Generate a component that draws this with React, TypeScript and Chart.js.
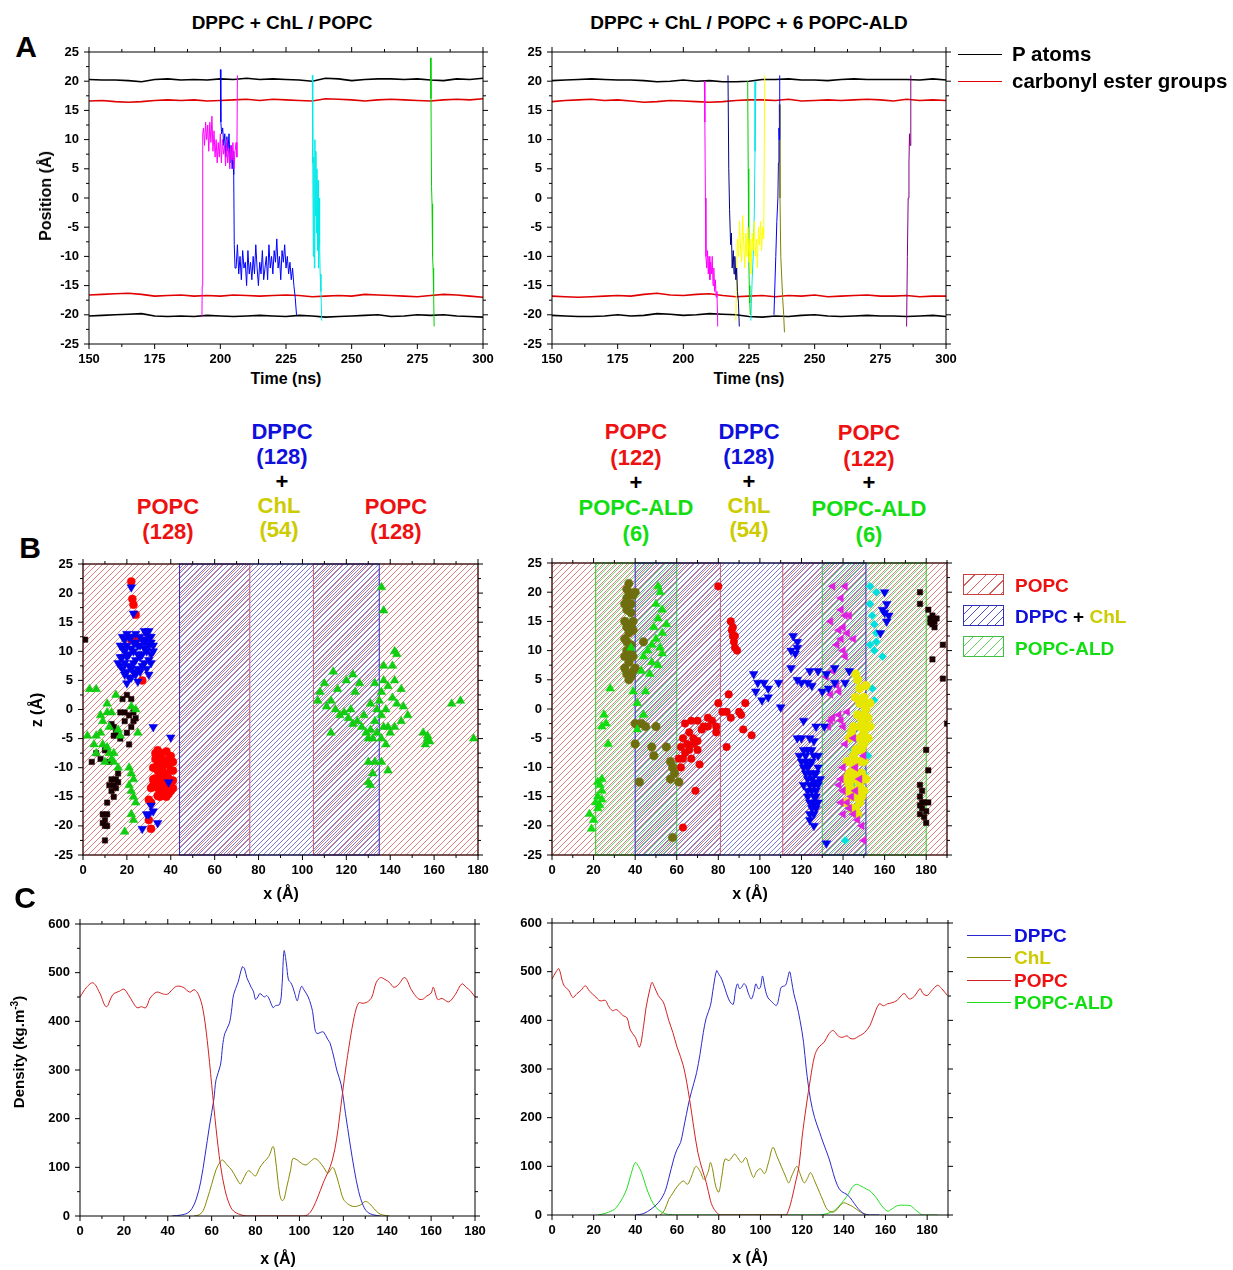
import React, { useEffect, useRef } from "react";
import { Chart, registerables } from "chart.js";
Chart.register(...registerables);

const FONT = "Arial, 'Liberation Sans', Helvetica, sans-serif";
type P = [number, number];
type Span = [number, number];

// ================= Panel A : positions vs time =================
const timeNs = [150,155,160,165,170,175,180,185,190,195,200,205,210,215,220,225,230,235,240,245,250,255,260,265,270,275,280,285,290,295,300];
const pTopL = [20.3,20.2,20.2,20.1,19.9,20.3,20.4,20.2,20.3,20.2,20.4,20.3,20.5,20.3,20.4,20.3,20.2,20.0,20.5,20.4,20.1,20.3,20.4,20.4,20.3,20.4,20.2,20.1,20.4,20.3,20.5];
const cTopL = [16.6,16.7,16.5,16.4,16.5,16.7,16.8,16.7,16.8,16.6,16.7,16.8,16.9,16.7,16.9,16.8,16.7,16.6,17.0,16.9,16.8,16.6,16.8,16.9,16.8,16.7,16.6,16.8,16.9,16.8,17.0];
const cBotL = [-16.6,-16.5,-16.4,-16.3,-16.5,-16.8,-16.7,-16.6,-16.8,-16.7,-16.8,-16.6,-16.7,-16.8,-16.7,-16.6,-16.7,-16.9,-16.8,-16.7,-16.8,-16.5,-16.6,-16.7,-16.8,-16.9,-16.7,-16.5,-16.6,-16.8,-17.0];
const pBotL = [-20.2,-20.1,-20.0,-19.9,-19.8,-20.2,-20.3,-20.2,-20.3,-20.1,-20.2,-20.3,-20.2,-20.1,-20.2,-20.3,-20.1,-20.2,-20.4,-20.3,-20.2,-20.1,-20.0,-20.3,-20.2,-20.0,-20.1,-20.0,-20.2,-20.3,-20.4];
const pTopR = [20.1,20.2,20.3,20.4,20.3,20.2,20.2,20.1,19.9,20.0,20.2,20.0,20.1,19.9,19.9,20.0,20.3,20.3,20.4,20.2,20.2,20.1,20.3,20.4,20.3,20.3,20.3,20.3,20.2,20.4,20.2];
const cTopR = [16.5,16.7,16.8,16.9,16.7,16.8,16.6,16.4,16.5,16.7,16.6,16.5,16.4,16.5,16.7,16.8,16.8,16.7,16.9,16.6,16.7,16.8,16.7,16.8,16.9,16.8,16.6,16.9,16.7,16.8,16.7];
const cBotR = [-16.8,-16.9,-17.0,-16.9,-16.8,-16.7,-16.8,-16.5,-16.3,-16.6,-16.7,-16.5,-16.4,-16.7,-16.9,-16.8,-16.7,-16.9,-16.7,-16.8,-16.6,-16.9,-16.8,-16.7,-16.6,-16.8,-16.8,-16.7,-16.9,-16.8,-16.8];
const pBotR = [-20.1,-20.2,-20.3,-20.3,-20.2,-20.0,-20.2,-20.1,-19.8,-19.9,-20.1,-20.0,-19.8,-19.9,-20.0,-20.3,-20.4,-20.2,-20.3,-20.1,-20.0,-20.2,-20.3,-20.2,-20.1,-20.2,-20.2,-20.3,-20.2,-20.1,-20.3];

const magentaAL: P[] = [[193,-20.3],[193.1,-15],[193.3,11],[193.6,12],[194,9],[194.4,13],[194.8,10],[195.2,12.5],[195.6,8],[196,13],[196.4,9.5],[196.8,14],[197.2,8],[197.6,11.5],[198,7],[198.4,10],[198.8,6],[199.2,9.5],[199.6,7],[200,11],[200.4,6],[200.8,10],[201.2,7.5],[201.6,9],[202,5.5],[202.4,10],[202.8,6],[203.2,8.5],[203.6,5],[204,9],[204.4,6.5],[204.8,9.5],[205.2,5],[205.6,8],[206,9.5],[206.3,7],[206.5,21]];
const blueAL: P[] = [[200,22],[200.2,13],[200.5,11],[200.9,12],[201.3,9],[201.7,11],[202.1,7],[202.5,10.5],[202.9,8],[203.3,11],[203.7,6],[204.1,9],[204.5,5],[204.9,8],[205.1,4],[205.3,-8],[205.6,-12],[206,-12],[206.5,-8],[207,-13],[207.5,-10],[208,-14],[208.5,-9],[209,-12],[209.5,-11],[210,-15],[210.5,-9],[211,-13],[211.5,-11],[212,-14],[212.5,-10],[213,-13],[213.5,-8],[214,-12],[214.5,-15],[215,-11],[215.5,-13],[216,-9],[216.5,-14],[217,-12],[217.5,-10],[218,-14],[218.5,-8],[219,-12],[219.5,-10],[220,-13],[220.5,-9],[221,-11],[221.5,-7],[222,-12],[222.5,-10],[223,-14],[223.5,-9],[224,-11],[224.5,-8],[225,-12],[225.5,-10],[226,-13],[226.5,-11],[227,-14],[227.5,-12],[228,-15],[228.5,-17],[229,-20]];
const cyanAL: P[] = [[235,21],[235.2,6],[235.4,-10],[235.6,7],[235.8,-12],[236,10],[236.2,-3],[236.4,8],[236.6,-6],[236.8,5],[237,-9],[237.2,3],[237.4,-12],[237.6,0],[237.8,-8],[238,-13],[238.3,-16],[238.6,-21]];
const greenAL: P[] = [[280,24],[280.2,17],[280.4,2],[280.6,-1],[280.8,-10],[281,-12],[281.2,-16],[281.4,-22]];

const magentaAR: P[] = [[208,20],[208.2,13],[208.4,0],[208.6,-10],[208.9,-12],[209.2,-9],[209.5,-13],[209.8,-10],[210.1,-14],[210.4,-11],[210.7,-13],[211,-10],[211.3,-15],[211.6,-12],[211.9,-16],[212.2,-14],[212.5,-17],[212.8,-16],[213.1,-22]];
const navyAR: P[] = [[217,21],[217.3,5],[217.6,-2],[218,-8],[218.3,-6],[218.6,-12],[219,-9],[219.3,-13],[219.6,-10],[220,-14],[220.3,-12],[220.6,-16],[221,-18],[221.3,-22]];
const yellowAR: P[] = [[220,-21],[220.3,-12],[220.6,-7],[221,-10],[221.4,-4],[221.8,-9],[222.2,-11],[222.6,-3],[223,-8],[223.4,-12],[223.8,-6],[224.2,-10],[224.6,-5],[225,-11],[225.4,-7],[225.8,-13],[226.2,-6],[226.6,-9],[227,-4],[227.4,-10],[227.8,-7],[228.2,-12],[228.6,-5],[229,-8],[229.4,-4],[229.8,-9],[230.2,-5],[230.6,-7],[231,21]];
const greenAR: P[] = [[224.5,20],[224.7,5],[224.9,-10],[225.1,-15],[225.3,-18],[225.5,-20]];
const cyanAR: P[] = [[227.6,20],[227.3,8],[227,-3],[226.6,-10],[226.2,-14],[225.9,-18],[225.7,-21]];
const blueAR: P[] = [[234.5,-20],[235.2,-10],[235.6,-4],[236,0],[236.2,6],[236.4,12],[236.5,10],[236.7,21]];
const oliveAR: P[] = [[236.5,16],[236.8,0],[237.1,-10],[237.4,-13],[237.8,-17],[238.2,-20],[238.5,-23]];
const purpleAR: P[] = [[285,-22],[285.3,-10],[285.6,0],[285.9,6],[286.1,11],[286.3,9],[286.6,21]];

// ================= Panel B : lateral positions =================
const popcSpansL: Span[] = [[0,76],[105,180]];
const dppcSpansL: Span[] = [[44,135]];
const popcSpansR: Span[] = [[0,81],[111,190]];
const aldSpansR: Span[] = [[21,60],[130,180]];
const dppcSpansR: Span[] = [[40,151]];

const blackSqL: P[] = [[1,12],[9,-18],[10,-19],[11,-18],[10,-20],[9,-19.5],[11,-20],[10,-22.5],[11,-16],[13,-12],[14,-13],[15,-12],[13,-14],[14,-15],[15,-13.5],[16,-12.5],[12,-13],[16,-11],[4,-9],[6,-7.5],[8,-8.5],[10,-7],[12,-9],[20,2.5],[18,1.8],[22,1.8],[17,-0.5],[19,-0.5],[21,-1],[23,-0.5],[24,-1.5],[19,-2],[22,-3],[20,-4],[14,-3],[15,-4],[13,-2.5],[23,-2],[21,-6],[17,-5],[14,-4.5]];
const redCirL: P[] = [[22,22],[22.5,19],[23,18],[24,16.3],[22,12],[24,12],[27,5],[31,-13.5],[32,-13],[30,-15.5],[31,-16],[30,-19],[31,-20.5],[34,-7],[36,-7.5],[38,-7.2],[40,-8],[33,-8.5],[35,-9],[37,-8.8],[39,-9.5],[41,-9],[32,-10],[34,-10.5],[36,-10.2],[38,-11],[40,-10.5],[33,-11.8],[35,-12],[37,-12.5],[39,-11.8],[41,-12.2],[34,-13.5],[36,-13.8],[38,-13.2],[40,-14],[35,-15],[37,-14.8],[36,-9.5],[38,-12],[34,-12.8],[33,-7.5],[35,-8],[37,-9.5],[39,-8.5],[41,-10.5],[33,-10],[35,-11],[37,-11],[39,-13],[41,-13.5],[33,-13],[35,-13.5],[37,-13.8],[39,-14.5],[36,-14.5],[34,-14.8],[38,-15],[40,-12.5],[32,-12],[34,-9.5]];
const blueInvL: P[] = [[22,21],[23,16.5],[32,-3],[40,-4.8],[39,-12.5],[31,-16.5],[32,-17.5],[30,-18],[29,-18],[27,-20.5],[34,-19.5],[20,4.5],[25,4.8],[17,9],[18,10.5],[19,8],[20,11],[21,9.5],[22,7],[23,10],[24,8.5],[25,11],[26,9],[18,7],[20,6.5],[22,5.5],[24,6],[19,12],[21,12.5],[23,11.5],[26,6.5],[28,13.5],[29,12],[30,11],[31,12.5],[29,10],[30,8.5],[31,9.5],[32,11],[28,8],[30,6],[29,7],[27,9.5],[16,8],[17,11],[18,12.5],[19,10],[20,9],[21,7.5],[22,10.5],[23,8],[24,11.5],[25,9.5],[26,11],[27,7.5],[28,10.5],[29,13],[30,12.5],[31,11.5],[32,10],[19,6],[21,5.5],[23,6.5],[25,7],[27,12],[28,11.5],[26,12.5],[24,13],[22,12.5],[20,13],[30,13.5],[31,8],[17,7.5],[18,9]];
const greenTriL: P[] = [[3,3.5],[6,3.5],[15,2.5],[11,1],[22,0.5],[24,0],[8,-1],[11,-0.5],[13,-0.5],[9,-2],[12,-3],[16,-3.5],[2,-4.5],[6,-4.5],[8,-4],[17,-4.5],[25,-4],[5,-6],[9,-6],[11,-6.5],[6,-7.5],[12,-7.5],[14,-7.5],[13,-8.5],[10,-9],[14,-9],[16,-10],[21,-10],[22,-11],[23,-12],[21,-13],[22,-14],[23,-15],[24,-16],[22,-18],[23,-19],[19,-21],[108,3],[110,4.5],[114,6.5],[116,3.5],[120,5],[123,6],[126,4.5],[124,3],[107,1.5],[111,0.5],[113,1.5],[115,0],[117,-1],[119,-0.5],[121,-1.5],[123,-2.5],[125,-2],[127,-3],[129,-4],[131,-3.5],[133,-2],[134,0],[135,1.5],[136,3],[131,1],[133,4.5],[137,5],[139,4],[137,7.5],[141,7.5],[142,10],[143,9.5],[142,5],[145,3.5],[141,2],[143,1],[146,0.5],[138,0],[136,-1],[137,-3],[139,-3],[140,-4],[142,-3],[145,-2],[148,-1],[134,-4],[132,-5],[136,-5],[138,-6],[113,-4],[130,-9],[133,-9],[136,-9],[139,-10.5],[132,-11],[130,-12.5],[131,-13],[136,21],[137,17],[155,-4],[157,-5],[158,-5.5],[157,-4.5],[156,-6],[168,1],[172,1.5],[178,-5],[130,-5],[128,-1],[122,0]];

const oliveCirR: P[] = [[35,18],[36,19],[37,20],[38,18],[39,19.5],[36,17],[38,16.5],[37,21.5],[39,15],[40,20],[35,12],[36,10],[37,8],[38,11],[39,9],[36,6],[38,5.5],[35,7],[37,13],[39,13.5],[40,7],[38,9.5],[36,11.5],[40,-2.5],[43,-2.5],[45,-3],[50,-3],[48,-6.5],[49,-8],[40,-6],[55,-6.5],[57,-9],[58,-10],[59,-11],[57,-12],[61,-12.5],[42,-12.5],[58,-22],[44,11.5],[36,14],[38,14.5],[35,9],[37,5],[39,6.5],[36,20.5],[35,15]];
const greenTriR: P[] = [[51,21],[52,20],[50,18],[53,17],[51,15.5],[55,14.5],[49,14],[53,13],[50,12],[48,11],[52,10.5],[46,10],[44,9],[48,8],[51,7.5],[53,9.5],[47,6],[43,6.5],[38,10.5],[39,3],[45,3],[28,3.5],[41,1],[44,-1],[25,-1],[26,-2.5],[24,-3],[27,-6],[22,-12.5],[23,-13],[24,-14],[22,-15],[24,-15.5],[23,-16.5],[21,-16],[22,-17],[18,-18],[20,-19],[19,-20.5],[24,-12],[41,-3.5]];
const redCirR: P[] = [[80,21],[86,15],[86.5,13.5],[87,12.5],[87.5,11.5],[88,10.5],[89,10],[87,14],[88,12.5],[85,2.5],[80,1],[82,-0.5],[84,-0.5],[86,-1.5],[75,-1.5],[77,-2],[79,-3],[73,-3],[70,-2],[67,-2],[64,-2.5],[66,-4],[68,-5],[70,-5.5],[63,-5],[65,-6],[62,-6.5],[64,-7.5],[66,-7],[68,-6],[70,-7],[61,-8.5],[63,-8.5],[67,-8.5],[71,-9.5],[62,-10],[84,-6.5],[90,-0.5],[91,-1],[93,1],[96,-4.5],[92,-3.5],[79,-4],[75,-3],[69,-14],[63,-20.3],[72,-3.5]];
const blueInvR: P[] = [[97,6],[99,4.5],[98,3],[102,4.5],[104,3.5],[104,2],[101,1.5],[109,4.5],[110,0.3],[116,12.5],[118,11.5],[115,10],[117,9.5],[118,10.5],[115,7],[118,5],[120,4.5],[123,4.5],[125,4],[124,6.5],[128,6.5],[132,6],[133,3.5],[130,3],[136,4.5],[143,6.5],[141,4.5],[136,7],[121,-2],[127,-3],[131,-3],[120,-5],[124,-5],[126,-5.5],[118,-5],[119,-8],[120,-9],[121,-10],[122,-11],[123,-12],[124,-13],[125,-14],[122,-8],[124,-9.5],[126,-11],[127,-12.5],[125,-16],[126,-18],[127,-17],[124,-19],[126,-20],[123,-15],[121,-13],[125,-7],[128,-8],[127,-15],[128,-10],[132,-23],[160,20],[161,18],[159,17],[162,16],[161,15],[158,13],[160,16.5],[121,-7],[122,-9],[123,-10],[124,-11],[125,-12],[126,-13],[127,-14],[123,-14],[124,-16],[125,-17],[126,-15],[128,-13],[127,-11],[128,-16],[125,-9],[123,-7],[126,-8],[129,-12],[124,-18],[126,-16.5]];
const magentaR: P[] = [[135,21],[141,21],[139,19],[141,16],[143,16],[140,14],[138,13.5],[142,13],[137,11],[139,12],[140,10],[141,9],[145,12],[134,15],[139,17],[135,6.5],[132,5.5],[137,4],[138,3],[134,2.5],[142,-0.5],[138,-1],[134,-2],[133,-3],[139,-2],[140,-3],[141,-6],[140,-10],[139,-12],[138,-13],[140,-14],[142,-16],[143,-17],[144,-15],[146,-14],[145,-18],[147,-19],[149,-20],[150,-22.5],[140,-18],[139,-16],[148,-12],[146,-10],[150,-8],[145,-5],[135,-1.5]];
const cyanR: P[] = [[153,21],[156,20],[153,18],[154,16],[155,14.5],[156,13],[153,11],[155,10],[156,11.5],[159,9],[154,3.5],[155,1.5],[148,-1],[147,-3],[146,-5],[145,-7],[147,-9],[146,-11],[144,-13],[145,-15],[143,-17],[149,-14],[150,-11],[148,-7],[141,-22.5],[150,-1],[151,-5],[152,-8]];
const yellowR: P[] = [[146,6],[147,5],[148,3.5],[146,2],[148,1],[150,2],[151,0],[152,-1.5],[149,-2],[148,-3],[150,-4],[152,-5],[149,-6],[147,-7],[146,-9],[145,-10],[147,-11],[144,-12],[143,-13],[145,-14],[146,-15],[148,-13],[149,-11],[150,-9],[144,-11],[142,-9],[141,-12],[151,-3],[153,-3],[146,-17],[148,-16],[147,-18],[144,-4],[149,-7],[151,4],[153,1],[143,-5],[145,-3],[147,-1],[149,1],[150,-1],[152,-3],[150,-6],[148,-9],[146,-12],[144,-15],[143,-11],[145,-8],[147,-14],[149,-15],[151,-12],[150,-14],[142,-14],[141,-16],[144,-17],[146,-7],[148,-5]];
const blackSqR: P[] = [[177,20],[177,18],[181,17],[182,15.5],[183,16],[184,15],[183,14.5],[184,14],[182,14.8],[185,15.5],[188,11],[183,8.5],[188,5.2],[190,-2.5],[180,-7],[181,-10.5],[177,-13],[178,-14],[177,-15],[179,-16],[178,-17],[180,-17.5],[177,-18],[179,-18.5],[180,-19.5],[178,-16],[181,-16],[177,-16.5]];

// ================= Panel C : density profiles =================
const popcCL: P[] = [[0,450],[3,470],[6,479],[9,458],[12,430],[15,455],[18,462],[20,466],[22,455],[24,440],[26,428],[28,430],[30,428],[32,448],[35,460],[38,456],[40,456],[42,465],[44,472],[47,470],[50,460],[52,465],[54,455],[56,425],[58,360],[60,270],[62,180],[64,105],[66,55],[68,25],[70,10],[73,3],[76,0],[102,0],[105,8],[108,35],[111,70],[113,90],[115,115],[117,160],[119,230],[121,300],[123,360],[125,410],[127,438],[129,437],[131,440],[133,450],[135,480],[137,490],[139,486],[141,480],[143,470],[145,475],[148,490],[151,465],[154,447],[156,445],[158,452],[160,458],[161,470],[163,445],[165,447],[168,440],[171,455],[174,477],[176,470],[178,462],[180,450]];
const dppcCL: P[] = [[42,0],[46,2],[49,6],[51,15],[53,35],[55,70],[57,125],[59,185],[61,240],[62,280],[64,310],[65,350],[66,375],[68,395],[69,420],[70,455],[72,480],[74,512],[75,508],[76,490],[77,480],[78,470],[79,462],[80,445],[81,450],[82,457],[84,450],[85,453],[86,448],[88,428],[89,432],[91,435],[92,470],[93,545],[94,520],[95,485],[96,480],[97,470],[98,455],[99,442],[100,460],[101,472],[102,465],[104,450],[106,420],[107,385],[108,375],[110,378],[111,378],[113,362],[114,355],[116,320],[117,300],[119,270],[121,210],[123,150],[125,95],[127,50],[129,22],[131,8],[134,2],[137,0]];
const chlCL: P[] = [[52,0],[54,2],[56,10],[58,35],[60,65],[62,95],[64,112],[65,115],[67,105],[69,95],[71,80],[73,66],[74,72],[76,90],[77,93],[79,85],[80,82],[82,100],[84,112],[86,122],[88,143],[89,120],[90,80],[91,45],[92,32],[93,35],[94,55],[96,95],[97,118],[99,115],[101,108],[103,105],[105,112],[107,118],[109,112],[111,100],[113,88],[115,100],[116,95],[118,65],[120,35],[122,25],[124,20],[126,20],[128,23],[130,30],[132,25],[134,15],[136,6],[138,2],[141,0]];
const popcCR: P[] = [[0,485],[2,500],[3.3,506],[5,480],[6,470],[8,462],[10,447],[12,455],[14,462],[16,471],[18,460],[21,448],[23,440],[25.6,441],[27,430],[29,420],[31,422],[34,410],[36,405],[37.6,380],[40,365],[42,345],[44,390],[45,423],[47,465],[48,478],[49,470],[51,451],[53,440],[54,431],[56,400],[58,375],[60,345],[63,307],[66,238],[68,180],[70,128],[72,95],[74,67],[76,30],[77,18],[79,5],[81,0],[112,0],[113.5,10],[115,32],[117,70],[118.5,100],[120,160],[122,224],[124,280],[126,327],[128,345],[130.6,355],[132.5,370],[134.6,379],[136,375],[137,369],[139,365],[141.6,368],[143,363],[145,362],[147,367],[148,369],[150,375],[152.5,389],[154,405],[157,434],[159,430],[161,434],[163,436],[165.6,441],[167,448],[169,455],[171,445],[172,444],[174,450],[176.6,465],[178,455],[180,451],[182,460],[185,472],[187,465],[189.7,451]];
const dppcCR: P[] = [[40,0],[44,3],[47.5,12],[51,25],[54,46],[56,75],[58.4,115],[60,135],[61.7,149],[63,175],[66,238],[68,270],[69.4,293],[71,330],[72.6,375],[74,405],[76,430],[77.5,470],[79,502],[80,495],[81.4,485],[83,465],[84.7,444],[86,435],[87,433],[88,460],[89,475],[90,465],[91,468],[92,475],[93,472],[94,458],[95.6,444],[97,460],[97.8,475],[99,465],[100,468],[101,491],[102,470],[103.4,448],[105,440],[107.7,431],[109,450],[110,468],[112,472],[113,485],[114,500],[115,480],[116,455],[117.5,431],[119,400],[120.7,355],[122,300],[124,238],[126,200],[128.4,170],[130,150],[133,115],[135,85],[137,60],[139,48],[141.6,42],[144,30],[146,18],[148,8],[150,2],[152,0],[157,0]];
const chlCR: P[] = [[52,0],[54,10],[56,32],[58,45],[60,58],[63,70],[65,63],[67,80],[69,100],[71,90],[73,73],[75,90],[76,108],[77,95],[78.5,60],[80,47],[81.5,80],[83,115],[85,112],[87.6,125],[89,118],[91,108],[93,118],[94.5,100],[96.7,77],[98,88],[100,95],[102,85],[104,110],[106,139],[108,120],[110,100],[112,80],[113.6,66],[115,80],[117.5,100],[119,85],[121,66],[122.5,75],[124,87],[126,70],[128.4,46],[130,30],[131.5,15],[133,8],[135,6],[136,8],[138,18],[140,25],[142,22],[144,18],[146,12],[148,6],[150,2],[152,0]];
const aldCR: P[] = [[22,0],[26,4],[30,12],[32,22],[34,36],[36,55],[38,85],[40,108],[41.5,100],[43,87],[45,60],[47.5,32],[50,15],[53,5],[56,1],[59.6,0],[128,0],[132,3],[135,8],[137,15],[140,30],[142.6,46],[144,57],[146,63],[148,60],[151,53],[153,48],[156,33],[158,20],[161,8],[163,12],[165,18],[166.7,20],[169,20],[172,19],[174,12],[176,5],[178,0],[185,0]];

// ================= helpers =================
const xy = (a: P[]) => a.map(([x, y]) => ({ x, y }));
const series = (t: number[], v: number[]) => t.map((x, i) => ({ x, y: v[i] }));

const frameTicks = {
  id: "frameTicks",
  afterDraw(chart: any) {
    const { ctx, chartArea: a, scales } = chart;
    const split = (sc: any) => {
      const major: number[] = sc.ticks.map((t: any) => t.value);
      const st = major.length > 1 ? major[1] - major[0] : 0;
      const minor: number[] = [];
      if (st) {
        for (let u = major[0] - st / 2; u >= sc.min - 1e-9; u -= st) minor.push(u);
        for (const t of major) { const u = t + st / 2; if (u <= sc.max + 1e-9) minor.push(u); }
      }
      return { major, minor };
    };
    const X = split(scales.x), Y = split(scales.y);
    ctx.save();
    ctx.strokeStyle = "#000";
    ctx.lineWidth = 1;
    ctx.strokeRect(a.left, a.top, a.right - a.left, a.bottom - a.top);
    ctx.beginPath();
    const xt = (v: number, len: number) => {
      const p = scales.x.getPixelForValue(v);
      ctx.moveTo(p, a.bottom); ctx.lineTo(p, a.bottom + len);
      ctx.moveTo(p, a.top); ctx.lineTo(p, a.top - len);
    };
    const yt = (v: number, len: number) => {
      const p = scales.y.getPixelForValue(v);
      ctx.moveTo(a.left, p); ctx.lineTo(a.left - len, p);
      ctx.moveTo(a.right, p); ctx.lineTo(a.right + len, p);
    };
    X.major.forEach((v) => xt(v, 5)); X.minor.forEach((v) => xt(v, 3));
    Y.major.forEach((v) => yt(v, 5)); Y.minor.forEach((v) => yt(v, 3));
    ctx.stroke();
    ctx.restore();
  },
};

type Layer = { spans: Span[]; line: string; edge: string; gap: number; off: number };
function regionPlugin(layers: Layer[]) {
  return {
    id: "regions",
    beforeDatasetsDraw(chart: any) {
      const { ctx, chartArea: a, scales } = chart;
      const top = scales.y.getPixelForValue(scales.y.max);
      const bot = scales.y.getPixelForValue(scales.y.min);
      const H = bot - top;
      for (const L of layers) {
        for (const [x0, x1] of L.spans) {
          const p0 = Math.max(a.left, scales.x.getPixelForValue(x0));
          const p1 = Math.min(a.right, scales.x.getPixelForValue(x1));
          ctx.save();
          ctx.beginPath();
          ctx.rect(p0, top, p1 - p0, H);
          ctx.clip();
          ctx.strokeStyle = L.line;
          ctx.lineWidth = 1;
          ctx.beginPath();
          const start = Math.floor((p0 - H - L.off) / L.gap) * L.gap + L.off;
          for (let x = start; x <= p1 + 1; x += L.gap) {
            ctx.moveTo(x, bot);
            ctx.lineTo(x + H, top);
          }
          ctx.stroke();
          ctx.restore();
          ctx.save();
          ctx.strokeStyle = L.edge; ctx.lineWidth = 1;
          ctx.strokeRect(p0, top, p1 - p0, H);
          ctx.restore();
        }
      }
    },
  };
}

const tickFont = { family: FONT, size: 13, weight: "bold" as const };
function axis(min: number, max: number, step: number, size: number, horizontal: boolean, pad: number) {
  return {
    type: "linear" as const, min, max,
    grid: { display: false, drawTicks: false },
    border: { display: false },
    ticks: { stepSize: step, font: tickFont, color: "#000", padding: pad, includeBounds: false, maxRotation: 0, autoSkip: false },
    afterFit: (s: any) => {
      if (horizontal) s.height = size; else s.width = size;
      s.paddingTop = 0; s.paddingBottom = 0; s.paddingLeft = 0; s.paddingRight = 0;
    },
  };
}

type Box = { left: number; top: number; w: number; h: number; lw: number; pt: number; pr: number; bh: number };

function baseOptions(b: Box, xr: [number, number, number], yr: [number, number, number]) {
  return {
    responsive: false,
    animation: false as const,
    events: [],
    layout: { padding: { left: 0, top: b.pt, right: b.pr, bottom: 0 } },
    plugins: { legend: { display: false }, tooltip: { enabled: false } },
    scales: {
      x: axis(xr[0], xr[1], xr[2], b.bh, true, 8),
      y: axis(yr[0], yr[1], yr[2], b.lw, false, 10),
    },
  };
}

function ChartBox({ box, make }: { box: Box; make: () => any }) {
  const ref = useRef<HTMLCanvasElement>(null);
  useEffect(() => {
    const chart = new Chart(ref.current!, make());
    return () => chart.destroy();
  }, []);
  return (
    <canvas ref={ref} width={box.w} height={box.h}
      style={{ position: "absolute", left: box.left, top: box.top, width: box.w, height: box.h }} />
  );
}

const lineDs = (data: any[], color: string, w = 1) => ({
  data, borderColor: color, borderWidth: w, pointRadius: 0, fill: false, tension: 0,
});
const curveDs = (data: any[], color: string) => ({
  data, borderColor: color, borderWidth: 1, pointRadius: 0, fill: false, tension: 0.35,
});
const ptDs = (data: P[], color: string, style: string, r: number, rot = 0) => ({
  data: xy(data), backgroundColor: color, borderColor: color, borderWidth: 0.5,
  pointStyle: style, pointRadius: r, rotation: rot,
});

// ---- chart configs ----
const boxAL: Box = { left: 40, top: 40, w: 460, h: 330, lw: 49, pt: 12, pr: 17, bh: 26 };
const boxAR: Box = { left: 510, top: 40, w: 460, h: 330, lw: 42, pt: 12, pr: 24, bh: 26 };
const boxBL: Box = { left: 40, top: 550, w: 460, h: 335, lw: 43, pt: 14, pr: 22, bh: 30 };
const boxBR: Box = { left: 510, top: 550, w: 460, h: 335, lw: 42, pt: 13, pr: 23, bh: 30 };
const boxCL: Box = { left: 30, top: 910, w: 470, h: 340, lw: 50, pt: 14, pr: 25, bh: 34 };
const boxCR: Box = { left: 510, top: 910, w: 460, h: 340, lw: 42, pt: 13, pr: 22, bh: 35 };

const makeAL = () => ({
  type: "line",
  data: { datasets: [
    lineDs(xy(magentaAL), "#ff00ff"), lineDs(xy(blueAL), "#0000ff"), lineDs(xy(cyanAL), "#00e8e8"), lineDs(xy(greenAL), "#00d000"),
    lineDs(series(timeNs, pTopL), "#000", 1.6), lineDs(series(timeNs, cTopL), "#e00000", 1.6),
    lineDs(series(timeNs, cBotL), "#e00000", 1.6), lineDs(series(timeNs, pBotL), "#000", 1.6),
  ] },
  options: baseOptions(boxAL, [150, 300, 25], [-25, 25, 5]),
  plugins: [frameTicks],
});
const makeAR = () => ({
  type: "line",
  data: { datasets: [
    lineDs(xy(magentaAR), "#ff00ff"), lineDs(xy(navyAR), "#000080"), lineDs(xy(yellowAR), "#ffff00"), lineDs(xy(greenAR), "#00d000"),
    lineDs(xy(cyanAR), "#00e8e8"), lineDs(xy(blueAR), "#0000ff"), lineDs(xy(oliveAR), "#808000"), lineDs(xy(purpleAR), "#800080"),
    lineDs(series(timeNs, pTopR), "#000", 1.6), lineDs(series(timeNs, cTopR), "#e00000", 1.6),
    lineDs(series(timeNs, cBotR), "#e00000", 1.6), lineDs(series(timeNs, pBotR), "#000", 1.6),
  ] },
  options: baseOptions(boxAR, [150, 300, 25], [-25, 25, 5]),
  plugins: [frameTicks],
});
const redHatch = { line: "rgb(222,128,128)", edge: "#dc5050", gap: 6, off: 0 };
const blueHatch = { line: "rgb(120,120,215)", edge: "#2828c8", gap: 5, off: 3 };
const greenHatch = { line: "rgb(115,218,115)", edge: "#30c830", gap: 6, off: 2 };
const makeBL = () => ({
  type: "scatter",
  data: { datasets: [
    ptDs(greenTriL, "#11cc11", "triangle", 5),
    ptDs(blackSqL, "#1a0000", "rect", 3.8),
    ptDs(blueInvL, "#0000ee", "triangle", 5, 180),
    ptDs(redCirL, "#ff0000", "circle", 4),
  ] },
  options: baseOptions(boxBL, [0, 180, 20], [-25, 25, 5]),
  plugins: [regionPlugin([{ spans: popcSpansL, ...redHatch }, { spans: dppcSpansL, ...blueHatch }]), frameTicks],
});
const makeBR = () => ({
  type: "scatter",
  data: { datasets: [
    ptDs(greenTriR, "#11dd11", "triangle", 5),
    ptDs(oliveCirR, "#6e6e10", "circle", 4.3),
    ptDs(redCirR, "#ee0000", "circle", 3.8),
    ptDs(blueInvR, "#0000ee", "triangle", 5, 180),
    ptDs(magentaR, "#e020e0", "triangle", 4.5, -90),
    ptDs(yellowR, "#e6e600", "circle", 4.3),
    ptDs(cyanR, "#00e0e0", "rectRot", 4),
    ptDs(blackSqR, "#1a0000", "rect", 3.8),
  ] },
  options: baseOptions(boxBR, [0, 190, 20], [-25, 25, 5]),
  plugins: [regionPlugin([{ spans: popcSpansR, ...redHatch }, { spans: aldSpansR, ...greenHatch }, { spans: dppcSpansR, ...blueHatch }]), frameTicks],
});
const makeCL = () => ({
  type: "line",
  data: { datasets: [curveDs(xy(popcCL), "#d42020"), curveDs(xy(dppcCL), "#2a2acc"), curveDs(xy(chlCL), "#888800")] },
  options: baseOptions(boxCL, [0, 180, 20], [0, 600, 100]),
  plugins: [frameTicks],
});
const makeCR = () => ({
  type: "line",
  data: { datasets: [curveDs(xy(popcCR), "#d42020"), curveDs(xy(dppcCR), "#2a2acc"), curveDs(xy(chlCR), "#888800"), curveDs(xy(aldCR), "#22dd22")] },
  options: baseOptions(boxCR, [0, 190, 20], [0, 600, 100]),
  plugins: [frameTicks],
});

// ---- text helpers ----
function T({ x, y, size = 16, color = "#000", rot = false, left = false, children }: any) {
  return (
    <div style={{
      position: "absolute", left: x, top: y,
      transform: `translate(${left ? "0" : "-50%"},-50%)${rot ? " rotate(-90deg)" : ""}`,
      font: `bold ${size}px ${FONT}`, color, whiteSpace: "nowrap", lineHeight: 1,
    }}>{children}</div>
  );
}
const RED = "#ee1111", BLUE = "#1010dd", YEL = "#cccc00", GRN = "#11dd11";

function LegLine({ x, y, color }: any) {
  return <div style={{ position: "absolute", left: x, top: y, width: 44, height: 0, borderTop: `1.5px solid ${color}` }} />;
}
function LegBox({ x, y, color, edge, gap }: any) {
  return <div style={{
    position: "absolute", left: x, top: y, width: 41, height: 21, boxSizing: "border-box",
    border: `1.5px solid ${edge}`,
    background: `repeating-linear-gradient(135deg, transparent 0 ${gap - 1}px, ${color} ${gap - 1}px ${gap}px)`,
  }} />;
}

export default function App() {
  return (
    <div style={{ position: "absolute", left: 0, top: 0, width: 1233, height: 1270, background: "#fff", overflow: "hidden" }}>
      {/* Panel A */}
      <T x={282} y={22} size={19}>DPPC + ChL / POPC</T>
      <T x={749} y={22} size={19}>DPPC + ChL / POPC + 6 POPC-ALD</T>
      <T x={26} y={47} size={30}>A</T>
      <ChartBox box={boxAL} make={makeAL} />
      <ChartBox box={boxAR} make={makeAR} />
      <T x={46} y={196} rot size={16}>Position (Å)</T>
      <T x={286} y={379} size={16}>Time (ns)</T>
      <T x={749} y={379} size={16}>Time (ns)</T>
      <LegLine x={958} y={54} color="#000" />
      <T x={1012} y={54} size={20.5} left>P atoms</T>
      <LegLine x={958} y={81} color="#e00000" />
      <T x={1012} y={81} size={20.5} left>carbonyl ester groups</T>

      {/* Panel B group labels */}
      <T x={282} y={432} size={22} color={BLUE}>DPPC</T>
      <T x={282} y={457} size={22} color={BLUE}>(128)</T>
      <T x={282} y={482} size={22}>+</T>
      <T x={279} y={506} size={22} color={YEL}>ChL</T>
      <T x={279} y={530} size={22} color={YEL}>(54)</T>
      <T x={168} y={507} size={22} color={RED}>POPC</T>
      <T x={168} y={532} size={22} color={RED}>(128)</T>
      <T x={396} y={507} size={22} color={RED}>POPC</T>
      <T x={396} y={532} size={22} color={RED}>(128)</T>

      <T x={636} y={432} size={22} color={RED}>POPC</T>
      <T x={636} y={458} size={22} color={RED}>(122)</T>
      <T x={636} y={483} size={22}>+</T>
      <T x={636} y={508} size={22} color={GRN}>POPC-ALD</T>
      <T x={636} y={534} size={22} color={GRN}>(6)</T>
      <T x={749} y={432} size={22} color={BLUE}>DPPC</T>
      <T x={749} y={457} size={22} color={BLUE}>(128)</T>
      <T x={749} y={482} size={22}>+</T>
      <T x={749} y={506} size={22} color={YEL}>ChL</T>
      <T x={749} y={530} size={22} color={YEL}>(54)</T>
      <T x={869} y={433} size={22} color={RED}>POPC</T>
      <T x={869} y={459} size={22} color={RED}>(122)</T>
      <T x={869} y={483} size={22}>+</T>
      <T x={869} y={509} size={22} color={GRN}>POPC-ALD</T>
      <T x={869} y={535} size={22} color={GRN}>(6)</T>

      <T x={30} y={548} size={30}>B</T>
      <ChartBox box={boxBL} make={makeBL} />
      <ChartBox box={boxBR} make={makeBR} />
      <T x={37} y={710} rot size={16}>z (Å)</T>
      <T x={281} y={894} size={16}>x (Å)</T>
      <T x={750} y={894} size={16}>x (Å)</T>
      <LegBox x={963} y={574} color="#d06060" edge="#c84040" gap={8} />
      <T x={1015} y={585} size={19} color={RED} left>POPC</T>
      <LegBox x={963} y={605} color="#5050c0" edge="#3030b0" gap={6} />
      <T x={1015} y={616} size={19} left><span style={{ color: BLUE }}>DPPC</span> + <span style={{ color: YEL }}>ChL</span></T>
      <LegBox x={963} y={636} color="#60d060" edge="#40c040" gap={7} />
      <T x={1015} y={648} size={19} color={GRN} left>POPC-ALD</T>

      {/* Panel C */}
      <T x={25} y={898} size={30}>C</T>
      <ChartBox box={boxCL} make={makeCL} />
      <ChartBox box={boxCR} make={makeCR} />
      <T x={18} y={1052} rot size={15}>Density (kg.m<sup style={{ fontSize: 10 }}>-3</sup>)</T>
      <T x={278} y={1259} size={16}>x (Å)</T>
      <T x={750} y={1258} size={16}>x (Å)</T>
      <LegLine x={967} y={935} color="#2a2acc" />
      <T x={1014} y={935} size={19} color={BLUE} left>DPPC</T>
      <LegLine x={967} y={957} color="#888800" />
      <T x={1014} y={957} size={19} color={YEL} left>ChL</T>
      <LegLine x={967} y={980} color="#d42020" />
      <T x={1014} y={980} size={19} color={RED} left>POPC</T>
      <LegLine x={967} y={1002} color="#22dd22" />
      <T x={1014} y={1002} size={19} color={GRN} left>POPC-ALD</T>
    </div>
  );
}
